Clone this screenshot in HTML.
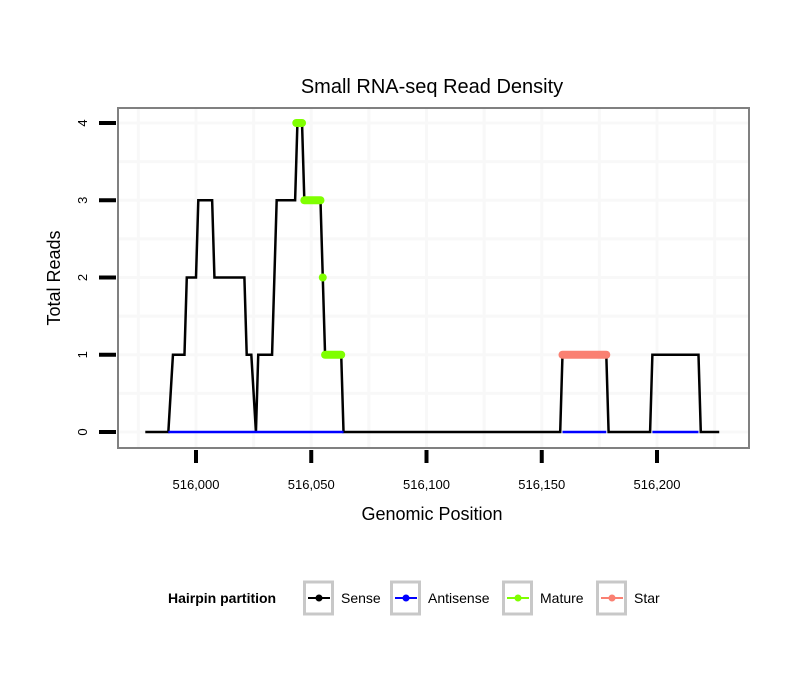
<!DOCTYPE html>
<html><head><meta charset="utf-8"><style>
body{margin:0;background:#fff;}
svg{display:block;font-family:"Liberation Sans",sans-serif;}
</style></head><body>
<svg id="chart" width="810" height="690">
<rect width="810" height="690" fill="#fff"/>
<text x="432" y="93" text-anchor="middle" font-size="20">Small RNA-seq Read Density</text>
<g id="grid"></g>
<g id="series"></g>
<rect x="118" y="108" width="631" height="340" fill="none" stroke="#808080" stroke-width="2"/>
<g id="axes"></g>
<text x="432" y="520" text-anchor="middle" font-size="18">Genomic Position</text>
<text transform="translate(60,278) rotate(-90)" text-anchor="middle" font-size="18">Total Reads</text>
<g id="legend"></g>
</svg>
<script>
const xTicks=[516000,516050,516100,516150,516200];
const xTickLabels=["516,000","516,050","516,100","516,150","516,200"];
const yTicks=[0,1,2,3,4];
const senseX=[515978,515988,515990,515995,515996,516000,516001,516007,516008,516021,516022,516024,516026,516027,516033,516035,516043,516044,516046,516047,516054,516055,516056,516063,516064,516158,516159,516178,516179,516197,516198,516218,516219,516227];
const senseY=[0,0,1,1,2,2,3,3,2,2,1,1,0,1,1,3,3,4,4,3,3,2,1,1,0,0,1,1,0,0,1,1,0,0];
const antisenseSegs=[[515988,516064],[516159,516178],[516198,516218]];
const matureX=[[516043.5,516046],[516047,516054],[516055,516055],[516056,516063]];
const matureY=[4,3,2,1];
const starX=[[516159,516178]];
const starY=[1];
const NS="http://www.w3.org/2000/svg";
const sx=v=>196+(v-516000)*2.305;
const sy=v=>432-v*77.25;
function mk(p,tag,attrs){const e=document.createElementNS(NS,tag);for(const k in attrs)e.setAttribute(k,attrs[k]);p.appendChild(e);return e;}
const grid=document.getElementById('grid');
for(let v=515975;v<=516225;v+=25){const l=mk(grid,'line',{x1:sx(v),x2:sx(v),y1:109,y2:447,stroke:'#f8f8f8','stroke-width':3});

}
for(let v=-0.5;v<=4.5;v+=0.5){const y=sy(v);if(y<109||y>447)continue;const l=mk(grid,'line',{x1:119,x2:748,y1:y,y2:y,stroke:'#f8f8f8','stroke-width':3});

}
const ser=document.getElementById('series');
const sp=mk(ser,'polyline',{points:senseX.map((x,i)=>sx(x)+','+sy(senseY[i])).join(' '),fill:'none',stroke:'#000','stroke-width':2.5,'stroke-linejoin':'miter'});


antisenseSegs.forEach(s=>{const l=mk(ser,'line',{x1:sx(s[0]),x2:sx(s[1]),y1:sy(0),y2:sy(0),stroke:'#0000ff','stroke-width':2.5});

});
matureX.forEach((s,i)=>{const l=mk(ser,'line',{x1:sx(s[0]),x2:sx(s[1]),y1:sy(matureY[i]),y2:sy(matureY[i]),stroke:'#7fff00','stroke-width':8,'stroke-linecap':'round'});

});
starX.forEach((s,i)=>{const l=mk(ser,'line',{x1:sx(s[0]),x2:sx(s[1]),y1:sy(starY[i]),y2:sy(starY[i]),stroke:'#fa8072','stroke-width':8,'stroke-linecap':'round'});

});
const ax=document.getElementById('axes');
xTicks.forEach((v,i)=>{const l=mk(ax,'line',{x1:sx(v),x2:sx(v),y1:450,y2:463,stroke:'#000','stroke-width':4});


const t=mk(ax,'text',{x:sx(v),y:489,'text-anchor':'middle','font-size':13});t.textContent=xTickLabels[i];

});
yTicks.forEach(v=>{const l=mk(ax,'line',{x1:99,x2:116,y1:sy(v),y2:sy(v),stroke:'#000','stroke-width':4});


const t=mk(ax,'text',{transform:`translate(87,${sy(v)}) rotate(-90)`,'text-anchor':'middle','font-size':13});t.textContent=v;

});
const lg=document.getElementById('legend');
const lt=mk(lg,'text',{x:168,y:603,'font-size':14,'font-weight':'bold'});lt.textContent='Hairpin partition';


const entries=[['Sense','#000',303],['Antisense','#0000ff',390],['Mature','#7fff00',502],['Star','#fa8072',596]];
entries.forEach(e=>{const g=mk(lg,'g',{});


mk(g,'rect',{x:e[2]+1.5,y:582,width:28,height:32,fill:'#fff',stroke:'#c8c8c8','stroke-width':3});
mk(g,'line',{x1:e[2]+5,x2:e[2]+27,y1:598,y2:598,stroke:e[1],'stroke-width':2});
mk(g,'circle',{cx:e[2]+16,cy:598,r:3.5,fill:e[1]});
const t=mk(g,'text',{x:e[2]+38,y:603,'font-size':14});t.textContent=e[0];});
</script>
</body></html>
